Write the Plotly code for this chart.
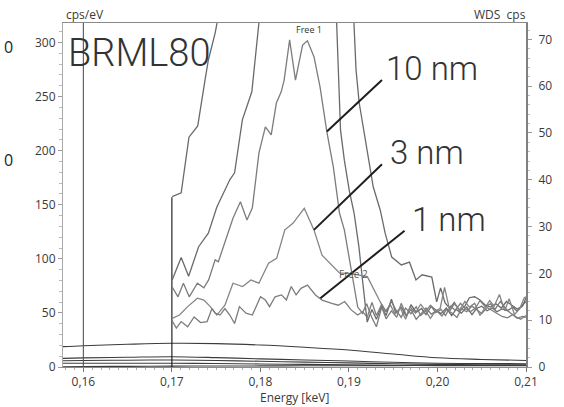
import plotly.graph_objects as go

# ---------------- data ----------------
# WDS spectra (right axis, cps)
a_E = [0.17003, 0.17105, 0.17193, 0.17292, 0.1738, 0.17412, 0.17489, 0.17508, 0.1790, 0.1850, 0.1890,
       0.19055, 0.1908, 0.19116, 0.19168, 0.19212, 0.19274, 0.19354, 0.19409, 0.19483, 0.19592, 0.19684,
       0.19757, 0.19826, 0.19936, 0.19991, 0.20035, 0.20086,
       0.2014, 0.2019, 0.2025, 0.2031, 0.2036, 0.2042, 0.2048, 0.2054, 0.2060, 0.2066, 0.2072, 0.2078,
       0.2084, 0.2090, 0.2096, 0.2100]
a_v = [36.4, 37.2, 49.1, 51.5, 62.0, 65.6, 71.4, 73.3, 140, 180, 140,
       73.5, 63.5, 56.4, 50.6, 45.7, 38.5, 33.5, 28.6, 23.5, 21.8, 22.4,
       18.6, 19.7, 19.2, 13.9, 16.9, 13.7,
       12.5, 13.8, 12.0, 13.0, 14.8, 15.0, 14.3, 13.2, 12.8, 13.5, 12.6, 14.0,
       13.1, 12.4, 13.0, 14.8]

b_E = [0.17003, 0.17105, 0.17189, 0.17302, 0.17412, 0.17508, 0.17654, 0.17708, 0.17796, 0.17903, 0.17983,
       0.1820, 0.1860, 0.1880,
       0.18861, 0.18905, 0.18948, 0.19003, 0.19058, 0.19113, 0.19153, 0.19190, 0.19206,
       0.1926, 0.1931, 0.1937, 0.1942, 0.1948, 0.1953, 0.1959, 0.1965, 0.1970, 0.1976, 0.1982, 0.1987,
       0.1993, 0.1999, 0.2004, 0.2010, 0.2016, 0.2021, 0.2027, 0.2033, 0.2039, 0.2044, 0.2050, 0.2056,
       0.2062, 0.2067, 0.2073, 0.2079, 0.2085, 0.2090, 0.2096, 0.2100]
b_v = [18.6, 23.4, 19.4, 25.7, 28.6, 34.2, 40.0, 41.5, 52.8, 58.8, 73.5,
       130, 150, 120,
       73.5, 50.6, 44.2, 37.8, 32.9, 25.6, 18.6, 12.8, 9.6,
       12.3, 10.2, 13.0, 11.0, 14.5, 11.5, 12.8, 10.8, 13.3, 11.7, 12.5, 11.2,
       13.0, 12.0, 11.4, 12.6, 11.0, 12.3, 11.5, 12.8, 11.2, 12.5, 13.0, 12.0,
       12.6, 11.8, 12.4, 12.0, 12.8, 11.9, 13.2, 14.0]

c_E = [0.1700, 0.17069, 0.17130, 0.17196, 0.17288, 0.17361, 0.17415, 0.17489, 0.17525, 0.17617, 0.17690,
       0.17774, 0.17848, 0.17909, 0.17983, 0.18056, 0.18122, 0.18180, 0.18235, 0.18268, 0.18330, 0.18396,
       0.18476, 0.18531, 0.18605, 0.18674, 0.18751, 0.18824, 0.18893, 0.18948, 0.19003, 0.19044, 0.19099,
       0.19153,
       0.1920, 0.1926, 0.1931, 0.1937, 0.1942, 0.1948, 0.1954, 0.1959, 0.1965, 0.1970, 0.1976, 0.1982,
       0.1987, 0.1993, 0.1999, 0.2005, 0.2010, 0.2016, 0.2022, 0.2027, 0.2033, 0.2039, 0.2044, 0.2050,
       0.2056, 0.2062, 0.2067, 0.2073, 0.2079, 0.2085, 0.2090, 0.2096, 0.2100]
c_v = [17.2, 15.0, 17.9, 15.0, 17.9, 16.9, 18.6, 22.9, 22.5, 27.8, 31.8,
       35.3, 31.4, 34.0, 45.7, 51.3, 49.6, 56.4, 58.8, 61.3, 69.9, 61.3,
       68.8, 69.7, 66.3, 59.8, 50.2, 42.7, 32.9, 29.3, 23.5, 19.2, 12.8,
       11.5,
       13.5, 10.5, 8.6, 12.8, 10.3, 12.0, 10.6, 13.6, 11.0, 12.3, 10.2, 11.5,
       12.6, 11.3, 12.0, 10.9, 12.2, 11.6, 10.6, 12.4, 11.8, 13.0, 12.2, 11.4,
       12.7, 12.0, 11.5, 10.8, 10.5, 11.2, 10.4, 10.8, 10.6]

d_E = [0.17003, 0.17086, 0.17178, 0.17288, 0.17361, 0.17434, 0.17508, 0.17599, 0.17690, 0.17799, 0.17892,
       0.17983, 0.18092, 0.18183, 0.18276, 0.18367, 0.18495, 0.18605, 0.18696, 0.18824, 0.18893, 0.19036,
       0.19208, 0.19354,
       0.1941, 0.1947, 0.1952, 0.1958, 0.1964, 0.1969, 0.1975, 0.1981, 0.1986, 0.1992, 0.1998, 0.2003,
       0.2008, 0.2014, 0.2019, 0.2025, 0.2031, 0.2036, 0.2042, 0.2048, 0.2053, 0.2059, 0.2064, 0.2070,
       0.2076, 0.2081, 0.2087, 0.2093, 0.2098, 0.2100]
d_v = [10.4, 11.1, 12.9, 14.7, 14.3, 12.9, 11.1, 13.2, 17.9, 17.2, 18.6,
       17.9, 22.2, 23.2, 29.3, 30.7, 33.9, 29.3, 23.9, 21.4, 20.1, 19.9,
       19.3, 13.9,
       12.0, 13.2, 11.3, 12.6, 10.2, 12.9, 11.5, 13.4, 12.2, 10.4, 12.0, 12.5,
       17.0, 12.0, 13.5, 12.2, 14.0, 12.8, 13.6, 11.0, 12.5, 14.2, 13.0, 15.5,
       12.0, 14.6, 11.2, 12.5, 14.8, 15.0]

e_E = [0.1700, 0.17050, 0.17105, 0.17178, 0.17251, 0.17324, 0.17398, 0.17453, 0.17489, 0.17544, 0.17599,
       0.17654, 0.17708, 0.17763, 0.17837, 0.17909, 0.18001, 0.18056, 0.18103, 0.18166, 0.18238, 0.18293,
       0.18348, 0.18403, 0.18458, 0.18531, 0.18622, 0.18696, 0.18806, 0.18879, 0.18952, 0.19025, 0.19099,
       0.19153, 0.19208,
       0.1926, 0.1931, 0.1937, 0.1942, 0.1948, 0.1953, 0.1959, 0.1964, 0.1970, 0.1976, 0.1981, 0.1987,
       0.1992, 0.1998, 0.2004, 0.2009, 0.2015, 0.2020, 0.2026, 0.2032, 0.2037, 0.2043, 0.2048, 0.2054,
       0.2060, 0.2065, 0.2071, 0.2077, 0.2082, 0.2088, 0.2094, 0.2100]
e_v = [10.0, 8.3, 9.7, 8.6, 10.7, 9.5, 9.7, 12.5, 11.5, 11.1, 12.5,
       11.1, 9.3, 12.9, 11.5, 11.1, 15.0, 14.3, 12.9, 15.0, 15.4, 14.3,
       17.2, 15.4, 16.8, 17.5, 15.4, 14.3, 13.6, 13.2, 14.0, 12.2, 11.1,
       11.8, 10.7,
       13.8, 11.0, 13.4, 11.8, 14.0, 12.2, 10.6, 12.6, 11.4, 12.9, 11.0, 12.0,
       13.2, 11.6, 12.3, 11.0, 13.0, 12.1, 13.6, 12.4, 11.8, 12.6, 14.2, 12.9,
       13.5, 12.3, 14.0, 12.5, 11.6, 10.8, 10.2, 11.0]

# EDS spectra (left axis, cps/eV)
eds_E = [0.1577, 0.1600, 0.1650, 0.1700, 0.1750, 0.1800, 0.1850, 0.1900, 0.1950, 0.2000, 0.2050, 0.2100]
eds_f = [18.8, 19.7, 21.0, 21.9, 21.6, 20.3, 18.2, 15.7, 12.0, 8.5, 7.0, 6.0]
eds_g = [8.0, 8.4, 9.0, 9.5, 8.7, 7.5, 6.5, 5.5, 4.4, 3.5, 3.2, 3.0]
eds_h = [5.8, 6.0, 6.3, 6.5, 6.0, 5.3, 4.5, 3.8, 3.0, 2.4, 2.1, 2.0]
eds_i = [3.4, 3.4, 3.5, 3.5, 3.2, 2.8, 2.4, 2.0, 1.6, 1.3, 1.2, 1.2]
eds_j = [0.3, 0.4, 0.6, 0.8, 0.9, 1.0, 1.1, 1.2, 1.3, 1.4, 1.5, 1.5]

# energy marker lines (keV, height in cps/eV)
marker_E = [0.16, 0.17]
marker_top = [330, 157]

left_ticks = [0, 50, 100, 150, 200, 250, 300]
right_ticks = [0, 10, 20, 30, 40, 50, 60, 70]
x_ticks = [0.16, 0.17, 0.18, 0.19, 0.20, 0.21]
x_ticklabels = ["0,16", "0,17", "0,18", "0,19", "0,20", "0,21"]

# ---------------- figure ----------------
fig = go.Figure()

eds_col = "#3c3c3c"
for ys in [eds_f, eds_g, eds_h, eds_i, eds_j]:
    fig.add_trace(go.Scatter(x=eds_E, y=ys, mode="lines", line=dict(color=eds_col, width=1.1, shape="spline"),
                             yaxis="y", showlegend=False, hoverinfo="skip"))

for e, top, col in zip(marker_E, marker_top, ["#555555", "#111111"]):
    fig.add_trace(go.Scatter(x=[e, e], y=[0, top], mode="lines", line=dict(color=col, width=1.1),
                             yaxis="y", showlegend=False, hoverinfo="skip"))

wds = [(a_E, a_v, "#6a6a6a"), (b_E, b_v, "#6a6a6a"), (c_E, c_v, "#7c7c7c"),
       (d_E, d_v, "#858585"), (e_E, e_v, "#7c7c7c")]
for xs, ys, col in wds:
    fig.add_trace(go.Scatter(x=xs, y=ys, mode="lines", line=dict(color=col, width=1.3),
                             yaxis="y2", showlegend=False, hoverinfo="skip"))

# pointer lines for labels (in keV / cps of right axis)
pointers = [((0.18751, 50.3), (0.19373, 61.3)),
            ((0.18605, 29.3), (0.19373, 43.3)),
            ((0.18677, 14.7), (0.19628, 29.1))]
for (x0, y0), (x1, y1) in pointers:
    fig.add_shape(type="line", xref="x", yref="y2", x0=x0, y0=y0, x1=x1, y1=y1,
                  line=dict(color="#1e1e1e", width=2))

# plot area geometry (pixels) for paper-coordinate text
L, R, T, B = 63, 540, 23, 367
def px(xp):
    return (xp - L) / (R - L)
def py(yp):
    return (B - yp) / (B - T)

tick_font = dict(family="Open Sans", size=12, color="#3a3a3a")
big_font = dict(family="Roboto", size=33, color="#333333", weight=300)

ann = []
ann.append(dict(text="BRML80", x=px(66), y=py(53), xref="paper", yref="paper", xanchor="left", yanchor="middle",
                showarrow=False, font=dict(family="Roboto", size=38, color="#333333", weight=300)))
ann.append(dict(text="10 nm", x=px(394), y=py(68), xref="paper", yref="paper", xanchor="left", yanchor="middle",
                showarrow=False, font=big_font))
ann.append(dict(text="3 nm", x=px(398), y=py(152), xref="paper", yref="paper", xanchor="left", yanchor="middle",
                showarrow=False, font=big_font))
ann.append(dict(text="1 nm", x=px(420), y=py(219), xref="paper", yref="paper", xanchor="left", yanchor="middle",
                showarrow=False, font=big_font))
ann.append(dict(text="Free 1", x=px(316.5), y=py(29), xref="paper", yref="paper", xanchor="center", yanchor="middle",
                showarrow=False, font=dict(family="Open Sans", size=9, color="#333333")))
ann.append(dict(text="Free 2", x=px(362), y=py(274), xref="paper", yref="paper", xanchor="center", yanchor="middle",
                showarrow=False, font=dict(family="Open Sans", size=10, color="#555555")))
ann.append(dict(text="cps/eV", x=px(86), y=py(15), xref="paper", yref="paper", xanchor="center", yanchor="middle",
                showarrow=False, font=tick_font))
ann.append(dict(text="WDS  cps", x=px(542), y=py(15), xref="paper", yref="paper", xanchor="right", yanchor="middle",
                showarrow=False, font=tick_font))
ann.append(dict(text="Energy [keV]", x=px(302), y=py(397), xref="paper", yref="paper", xanchor="center",
                yanchor="middle", showarrow=False, font=tick_font))
for yy in (47, 160):
    ann.append(dict(text="0", x=px(0), y=py(yy), xref="paper", yref="paper", xanchor="left", yanchor="middle",
                    showarrow=False, font=dict(family="Open Sans", size=16, color="#1c1c2a")))

fig.update_layout(
    width=564, height=407,
    margin=dict(l=L, r=564 - R, t=T, b=407 - B),
    paper_bgcolor="white", plot_bgcolor="white",
    showlegend=False,
    annotations=ann,
    xaxis=dict(range=[0.1577, 0.2100], tickvals=x_ticks, ticktext=x_ticklabels,
               showgrid=False, zeroline=False, showline=True, linecolor="#8a8a8a", linewidth=1, mirror=True,
               ticks="outside", ticklen=4, tickcolor="#777777", tickfont=tick_font,
               minor=dict(dtick=0.001, ticks="outside", ticklen=2, tickcolor="#aaaaaa")),
    yaxis=dict(range=[0, 318], tickvals=left_ticks, showgrid=False, zeroline=False,
               showline=True, linecolor="#aaaaaa", linewidth=1,
               ticks="outside", ticklen=4, tickcolor="#999999", tickfont=tick_font,
               minor=dict(dtick=10, ticks="outside", ticklen=3, tickcolor="#bbbbbb")),
    yaxis2=dict(range=[0, 73.5], tickvals=right_ticks, overlaying="y", side="right", anchor="x",
                showgrid=False, zeroline=False, showline=True, linecolor="#808080", linewidth=2,
                ticks="outside", ticklen=4, tickcolor="#999999", tickfont=tick_font, ticklabelstandoff=4,
                minor=dict(dtick=2, ticks="outside", ticklen=2, tickcolor="#bbbbbb")),
)

fig.write_html("out.html", config={"displayModeBar": False},
               post_script="document.body.style.margin='0px';")
